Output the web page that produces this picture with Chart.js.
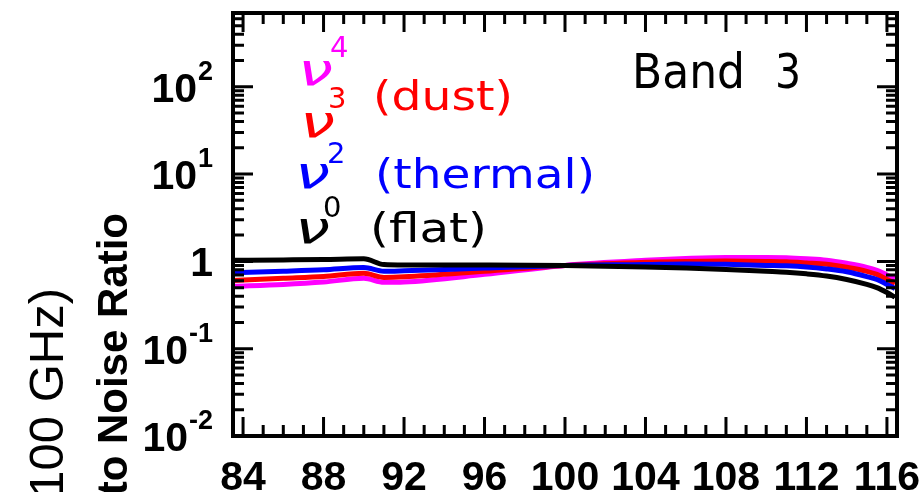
<!DOCTYPE html>
<html>
<head>
<meta charset="utf-8">
<script src="https://cdn.jsdelivr.net/npm/chart.js@4/dist/chart.umd.min.js"></script>
<style>
  html, body { margin: 0; padding: 0; background: #ffffff; }
  #wrap { width: 923px; height: 492px; position: relative; }
</style>
</head>
<body>
<div id="wrap"><canvas id="c" width="923" height="492"></canvas></div>
<script>
// Frequency across Band 3 (GHz)
const freqGHz = [83.5, 86, 88, 90, 91, 92, 96, 100, 104, 106, 108, 110, 111, 112, 113, 114, 115, 115.5, 116, 116.4];

// Signal-to-noise ratio for each source spectrum
const snrFlat    = [1.03, 1.04, 1.05, 1.07, 0.92, 0.91, 0.91, 0.90, 0.865, 0.84, 0.81, 0.77, 0.75, 0.72, 0.68, 0.62, 0.545, 0.50, 0.44, 0.39];
const snrThermal = [0.74, 0.77, 0.80, 0.85, 0.77, 0.78, 0.84, 0.90, 0.92, 0.935, 0.925, 0.90, 0.89, 0.865, 0.82, 0.76, 0.67, 0.62, 0.545, 0.49];
const snrDust    = [0.605, 0.64, 0.67, 0.73, 0.655, 0.665, 0.77, 0.90, 0.975, 1.0, 1.01, 1.0, 0.99, 0.96, 0.925, 0.855, 0.77, 0.71, 0.62, 0.56];
const snrNu4     = [0.52, 0.545, 0.58, 0.64, 0.575, 0.58, 0.71, 0.90, 1.03, 1.08, 1.11, 1.11, 1.10, 1.07, 1.03, 0.95, 0.855, 0.79, 0.70, 0.64];

// Axis ticks
const xTickValues = [84, 88, 92, 96, 100, 104, 108, 112, 116];
const xTickLabels = ['84', '88', '92', '96', '100', '104', '108', '112', '116'];
const yTickValues = [0.01, 0.1, 1, 10, 100];
const yTickBase   = ['10', '10', '1', '10', '10'];
const yTickExp    = ['-2', '-1', '', '1', '2'];

// Legend entries
const seriesExp    = ['4', '3', '2', '0'];
const seriesNames  = ['', '(dust)', '(thermal)', '(flat)'];
const seriesColors = ['#ff00ff', '#ff0000', '#0000ff', '#000000'];

const X_MIN = 83.5, X_MAX = 116.5, Y_MIN = 0.01, Y_MAX = 700;

function pts(arr) { return freqGHz.map((f, i) => ({ x: f, y: arr[i] })); }

function fitText(ctx, text, x, baseline, width) {
  const w = ctx.measureText(text).width;
  ctx.save();
  ctx.translate(x, baseline);
  ctx.scale(width / w, 1);
  ctx.fillText(text, 0, 0);
  ctx.restore();
}

const framePlugin = {
  id: 'frameAndText',
  afterDatasetsDraw(chart) {
    const ctx = chart.ctx;
    const a = chart.chartArea;
    const xs = chart.scales.x, ys = chart.scales.y;
    ctx.save();
    ctx.strokeStyle = '#000';
    ctx.fillStyle = '#000';
    ctx.lineCap = 'butt';

    // Box
    ctx.lineWidth = 4;
    ctx.strokeRect(a.left, a.top, a.right - a.left, a.bottom - a.top);

    // X ticks (inward, bottom and top)
    ctx.lineWidth = 3;
    for (let v = Math.ceil(X_MIN); v <= X_MAX; v++) {
      const px = xs.getPixelForValue(v);
      const len = xTickValues.includes(v) ? 19 : 11;
      ctx.beginPath();
      ctx.moveTo(px, a.bottom); ctx.lineTo(px, a.bottom - len);
      ctx.moveTo(px, a.top); ctx.lineTo(px, a.top + len);
      ctx.stroke();
    }
    // Y ticks (inward, left and right)
    for (let d = Y_MIN; d < Y_MAX; d *= 10) {
      for (let m = 1; m <= 9; m++) {
        const v = d * m;
        if (v > Y_MAX * 1.0001) break;
        const py = ys.getPixelForValue(v);
        const len = m === 1 ? 20 : 11;
        ctx.beginPath();
        ctx.moveTo(a.left, py); ctx.lineTo(a.left + len, py);
        ctx.moveTo(a.right, py); ctx.lineTo(a.right - len, py);
        ctx.stroke();
      }
    }

    // X tick labels
    ctx.font = 'bold 41px "Liberation Sans", Arial, sans-serif';
    ctx.textAlign = 'center';
    ctx.textBaseline = 'alphabetic';
    xTickValues.forEach((v, i) => {
      ctx.fillText(xTickLabels[i], xs.getPixelForValue(v), 490);
    });

    // Y tick labels with superscript exponents
    const labelRight = 213;
    yTickValues.forEach((v, i) => {
      const py = ys.getPixelForValue(v);
      ctx.textAlign = 'right';
      let right = labelRight;
      if (yTickExp[i]) {
        ctx.font = 'bold 27px "Liberation Sans", Arial, sans-serif';
        ctx.fillText(yTickExp[i], right, py - 7);
        right -= ctx.measureText(yTickExp[i]).width + 1;
      }
      ctx.font = 'bold 41px "Liberation Sans", Arial, sans-serif';
      ctx.fillText(yTickBase[i], right, py + 15);
    });

    // Rotated axis titles
    ctx.textAlign = 'right';
    ctx.save();
    ctx.translate(127, 213);
    ctx.rotate(-Math.PI / 2);
    ctx.font = 'bold 42px "Liberation Sans", Arial, sans-serif';
    ctx.fillText('Signal to Noise Ratio', 0, 0);
    ctx.restore();
    ctx.save();
    ctx.translate(63, 288);
    ctx.rotate(-Math.PI / 2);
    ctx.font = '49px "Liberation Sans", Arial, sans-serif';
    ctx.fillText('(Relative to 100 GHz)', 0, 0);
    ctx.restore();

    // Legend
    ctx.textAlign = 'left';
    const nuX    = [298, 300, 295, 295];
    const nuBase = [85, 137, 188, 243];
    const supX   = [330, 328, 327, 323];
    const supBase = [57, 108, 163, 217];
    const nameX  = [0, 373, 375, 370];
    const nameBase = [0, 110, 188, 242];
    const nameW  = [0, 140, 220, 117];
    for (let i = 0; i < 4; i++) {
      ctx.fillStyle = seriesColors[i];
      ctx.font = 'italic 44px "DejaVu Sans", sans-serif';
      fitText(ctx, '\u03BD', nuX[i], nuBase[i], 35);
      ctx.font = '29px "DejaVu Sans", sans-serif';
      ctx.fillText(seriesExp[i], supX[i], supBase[i]);
      if (seriesNames[i]) {
        ctx.font = '40px "DejaVu Sans", sans-serif';
        fitText(ctx, seriesNames[i], nameX[i], nameBase[i], nameW[i]);
      }
    }

    // Band label
    ctx.fillStyle = '#000';
    ctx.font = '48px "DejaVu Sans", sans-serif';
    fitText(ctx, 'Band', 632, 88, 113);
    fitText(ctx, '3', 775, 88, 26);

    ctx.restore();
  }
};

const lineStyle = (label, data, color) => ({
  label, data: pts(data),
  borderColor: color, backgroundColor: color,
  borderWidth: 5, pointRadius: 0, fill: false,
  cubicInterpolationMode: 'monotone'
});

new Chart(document.getElementById('c'), {
  type: 'line',
  data: {
    datasets: [
      lineStyle('nu^0 (flat)', snrFlat, seriesColors[3]),
      lineStyle('nu^2 (thermal)', snrThermal, seriesColors[2]),
      lineStyle('nu^3 (dust)', snrDust, seriesColors[1]),
      lineStyle('nu^4', snrNu4, seriesColors[0])
    ]
  },
  options: {
    responsive: false,
    animation: false,
    layout: { padding: { left: 233, right: 26, top: 13, bottom: 56 } },
    plugins: { legend: { display: false }, tooltip: { enabled: false } },
    scales: {
      x: { type: 'linear', min: X_MIN, max: X_MAX, display: false },
      y: { type: 'logarithmic', min: Y_MIN, max: Y_MAX, display: false }
    }
  },
  plugins: [framePlugin]
});
</script>
</body>
</html>
